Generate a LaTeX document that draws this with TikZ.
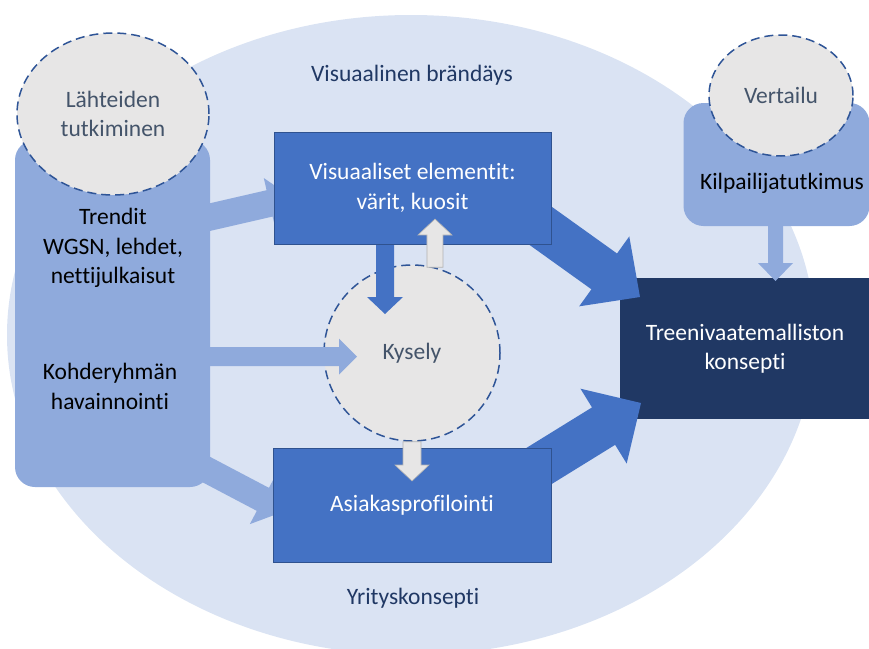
\documentclass[tikz,border=0pt]{standalone}
\usepackage{fontspec}
\setmainfont{Carlito}[Ligatures=NoCommon]
\usepackage{xcolor}
\usetikzlibrary{calc,shapes.geometric}
\definecolor{tausta}{HTML}{DAE3F3}
\definecolor{vaalea}{HTML}{8FAADC}
\definecolor{sininen}{HTML}{4472C4}
\definecolor{reuna}{HTML}{2F528F}
\definecolor{tumma}{HTML}{203864}
\definecolor{harmaa}{HTML}{E7E6E6}
\definecolor{katko}{HTML}{2F5597}
\definecolor{harmaateksti}{HTML}{44546A}
\newcommand{\fatarrow}[6][]{
\coordinate (s) at (#2);
\coordinate (t) at (#3);
\coordinate (hb) at ($(t)!#6!(s)$);
\path[#1] ($(s)!#4!90:(t)$) -- ($(hb)!#4!-90:(s)$) -- ($(hb)!#5!-90:(s)$) -- (t)
  -- ($(hb)!#5!90:(s)$) -- ($(hb)!#4!90:(s)$) -- ($(s)!#4!-90:(t)$) -- cycle;
}

\begin{document}
\begin{tikzpicture}[x=1pt,y=-1pt,
  teksti/.style={font=\fontsize{23.5}{29.5}\selectfont, align=center, inner sep=0},
  laatikko/.style={rectangle, fill=sininen, draw=reuna, line width=1pt, teksti, text=white},
  vaalealaatikko/.style={rectangle, rounded corners=20pt, fill=vaalea, inner sep=0},
  katkoellipsi/.style={ellipse, fill=harmaa, draw=katko, line width=1.5pt,
    dash pattern=on 9pt off 5pt, teksti, text=harmaateksti},
  vaaleanuoli/.style={fill=vaalea},
  tummanuoli/.style={fill=sininen},
  harmaanuoli/.style={fill=harmaa, draw=gray!60, line width=0.6pt}]
\useasboundingbox (0, 0) rectangle (869, 648);
\node[ellipse, fill=tausta, minimum width=808pt, minimum height=640pt, inner sep=0] at (411, 335) (taustaellipsi) {};
\node[rectangle, fill=tumma, minimum width=250pt, minimum height=141pt, teksti, text=white] at (745, 348.5) (konsepti) {Treenivaatemalliston\\konsepti};
\coordinate (visulahto) at (478, 181);
\coordinate (visukarki) at (640, 297);
\coordinate (asiakaslahto) at (471, 508);
\coordinate (asiakaskarki) at (641, 403);
\coordinate (kilpalahto) at (775.5, 200);
\coordinate (kilpakarki) at (775.5, 281);
\fatarrow[tummanuoli]{visulahto}{visukarki}{22pt}{43pt}{44pt}
\fatarrow[tummanuoli]{asiakaslahto}{asiakaskarki}{22pt}{44pt}{44pt}
\fatarrow[vaaleanuoli]{kilpalahto}{kilpakarki}{7.5pt}{17.5pt}{18pt}
\coordinate (trendlahto) at (180, 224);
\coordinate (trendkarki) at (293, 198);
\coordinate (profiililahto) at (196.5, 464.4);
\coordinate (profiilikarki) at (285, 511);
\fatarrow[vaaleanuoli]{trendlahto}{trendkarki}{13.5pt}{26pt}{24pt}
\fatarrow[vaaleanuoli]{profiililahto}{profiilikarki}{13pt}{28pt}{25pt}
\node[vaalealaatikko, minimum width=195pt, minimum height=347pt] at (112.5, 313.5) (lahteet) {};
\node[teksti] at (113, 248) (trendit) {Trendit\\WGSN, lehdet,\\nettijulkaisut};
\node[teksti] at (110, 386.5) (kohderyhma) {Kohderyhmän\\havainnointi};
\node[katkoellipsi, minimum width=192pt, minimum height=162pt] at (113, 114) (tutkiminen) {Lähteiden\\tutkiminen};
\node[katkoellipsi, minimum width=176pt, minimum height=176pt] at (412, 353) (kysely) {Kysely};
\coordinate (kohdekarki) at (357, 356.5);
\fatarrow[vaaleanuoli]{lahteet.east |- kohdekarki}{kohdekarki}{9.5pt}{18pt}{18pt}
\coordinate (visupohja) at (385, 230);
\coordinate (kyselykarki) at (385, 314);
\fatarrow[tummanuoli]{visupohja}{kyselykarki}{9pt}{18pt}{17pt}
\node[laatikko, minimum width=277pt, minimum height=112pt] at (412.5, 188) (visu) {Visuaaliset elementit:\\värit, kuosit};
\node[laatikko, minimum width=278pt, minimum height=114pt] at (412, 505) (asiakas) {Asiakasprofilointi};
\coordinate (visukarki2) at (435, 219);
\coordinate (asiakaskarki2) at (412, 481);
\fatarrow[harmaanuoli]{kysely.75}{visukarki2}{8pt}{17pt}{16pt}
\fatarrow[harmaanuoli]{kysely.south}{asiakaskarki2}{9pt}{17pt}{16pt}
\node[vaalealaatikko, minimum width=186pt, minimum height=123pt] at (776.5, 164.5) (kilpa) {};
\node[teksti] at (782, 183) (kilpateksti) {Kilpailijatutkimus};
\node[katkoellipsi, minimum width=144pt, minimum height=121pt] at (781, 95.5) (vertailu) {Vertailu};
\node[teksti, text=tumma] at (412, 75) (brandays) {Visuaalinen brändäys};
\node[teksti, text=tumma] at (413, 598) (yritys) {Yrityskonsepti};
\end{tikzpicture}
\end{document}
